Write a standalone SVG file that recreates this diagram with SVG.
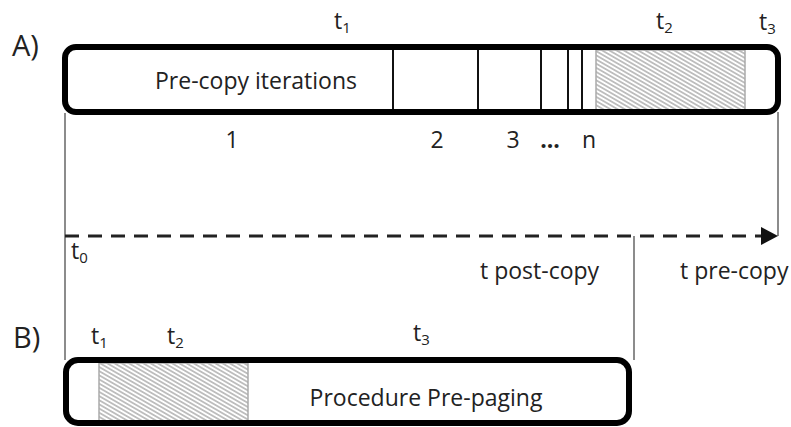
<svg xmlns="http://www.w3.org/2000/svg" width="791" height="427" viewBox="0 0 791 427">
<style>
text{font-family:"Open Sans","DejaVu Sans",sans-serif;fill:#222;font-size:23px}
.lbl{font-size:29px}
.sub{font-size:15px}
.box{fill:none;stroke:#000;stroke-width:6}
.div{stroke:#111;stroke-width:2}
.thin{stroke:#666;stroke-width:1.5;fill:none}
.hatch{fill:url(#hp);stroke:#aaa;stroke-width:1.5}
</style>
<defs>
<pattern id="hp" patternUnits="userSpaceOnUse" width="10" height="3.6" patternTransform="rotate(30)">
<rect width="10" height="3.6" fill="#fff"/>
<line x1="0" y1="1.8" x2="10" y2="1.8" stroke="#888" stroke-width="1"/>
</pattern>
</defs>
<g id="connectors">
<line class="thin" x1="65" y1="113" x2="65" y2="360"/>
<line class="thin" x1="778" y1="112" x2="778" y2="236"/>
<line class="thin" x1="634" y1="236" x2="634" y2="360"/>
<line x1="65" y1="236" x2="764" y2="236" stroke="#222" stroke-width="3" stroke-dasharray="14 9"/>
<polygon points="761,227 778,236 761,245" fill="#111"/>
</g>
<g id="nodeA">
<rect x="596" y="50" width="149" height="60" class="hatch"/>
<line class="div" x1="393" y1="50" x2="393" y2="110"/>
<line class="div" x1="478" y1="50" x2="478" y2="110"/>
<line class="div" x1="541" y1="50" x2="541" y2="110"/>
<line class="div" x1="568" y1="50" x2="568" y2="110"/>
<line class="div" x1="582" y1="50" x2="582" y2="110"/>
<rect x="65" y="47" width="713" height="65" rx="11" class="box"/>
<text x="256" y="89" text-anchor="middle">Pre-copy iterations</text>
</g>
<g id="nodeB">
<rect x="99" y="363" width="149" height="58" class="hatch"/>
<rect x="66" y="360" width="563" height="63" rx="12" class="box"/>
<text x="426" y="406" text-anchor="middle">Procedure Pre-paging</text>
</g>
<g id="labels">
<text class="lbl" x="12" y="56">A)</text>
<text class="lbl" x="13" y="348">B)</text>
<text x="334" y="29">t<tspan class="sub" dy="4">1</tspan></text>
<text x="656" y="29">t<tspan class="sub" dy="4">2</tspan></text>
<text x="759" y="30">t<tspan class="sub" dy="4">3</tspan></text>
<text x="232" y="148" text-anchor="middle">1</text>
<text x="437" y="148" text-anchor="middle">2</text>
<text x="513" y="148" text-anchor="middle">3</text>
<text x="550" y="148" text-anchor="middle" font-weight="bold">...</text>
<text x="589" y="148" text-anchor="middle">n</text>
<text x="71" y="259">t<tspan class="sub" dy="4">0</tspan></text>
<text x="480" y="279">t post-copy</text>
<text x="680" y="279">t pre-copy</text>
<text x="91" y="344">t<tspan class="sub" dy="4">1</tspan></text>
<text x="167" y="344">t<tspan class="sub" dy="4">2</tspan></text>
<text x="413" y="341">t<tspan class="sub" dy="4">3</tspan></text>
</g>
</svg>
